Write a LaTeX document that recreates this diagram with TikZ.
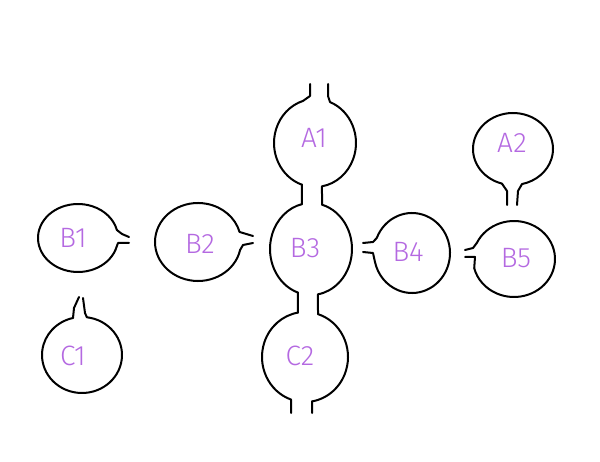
\documentclass[tikz,border=0pt]{standalone}
\usepackage{fontspec}
\setmainfont{Fira Sans Light}
\usetikzlibrary{calc}
\definecolor{labelpurple}{RGB}{180,105,225}
\tikzset{
  blob/.style={draw=black, line width=2pt, line cap=round, line join=round},
  lbl/.style={text=labelpurple, font=\fontsize{28}{28}\selectfont, inner sep=0pt},
}
% center, rx, ry, start angle, end angle, start name, end name
\newcommand\blobarc[7]{\draw[blob] ($(#1)+(#4:#2 and #3)$) coordinate (#6)
  arc[start angle=#4, end angle=#5, x radius=#2, y radius=#3] coordinate (#7);}
\begin{document}
\begin{tikzpicture}[x=1pt,y=-1pt]
\useasboundingbox (0,0) rectangle (600,462);
% centres
\coordinate (A1c) at (315,143);
\coordinate (B3c) at (311,249);
\coordinate (C2c) at (305,357);
\coordinate (B1c) at (78,238);
\coordinate (B2c) at (198,242);
\coordinate (B4c) at (412,253);
\coordinate (B5c) at (514,259);
\coordinate (A2c) at (513,149);
\coordinate (C1c) at (82,355);
% outlines
\blobarc{A1c}{41}{44}{291.5}{440.2}{A1tr}{A1br}
\blobarc{A1c}{41}{44}{108.5}{253}{A1bl}{A1tl}
\blobarc{B3c}{41}{46}{285.6}{440.2}{B3tr}{B3br}
\blobarc{B3c}{41}{46}{108.5}{257.3}{B3bl}{B3tl}
\blobarc{C2c}{43}{45}{287.6}{440.6}{C2tr}{C2br}
\blobarc{C2c}{43}{45}{109}{260.6}{C2bl}{C2tl}
\blobarc{B1c}{40}{34}{20.7}{346.4}{B1lo}{B1up}
\blobarc{B2c}{43}{39}{11.8}{345.1}{B2lo}{B2up}
\blobarc{B4c}{38}{40}{202}{527}{B4up}{B4lo}
\blobarc{B5c}{41}{38}{205}{526}{B5up}{B5lo}
\blobarc{A2c}{40}{36}{106}{437}{A2bl}{A2br}
\blobarc{C1c}{40}{38}{277}{617}{C1tr}{C1tl}
% free ends of stubs
\coordinate (A1e1) at (310,84);
\coordinate (A1e2) at (328,84);
\coordinate (C2e1) at (291,413);
\coordinate (C2e2) at (312,413);
\coordinate (B1e1) at (129,237);
\coordinate (B1e2) at (129,243);
\coordinate (B2e1) at (253,236);
\coordinate (B2e2) at (253,243);
\coordinate (B4e1) at (363,243);
\coordinate (B4e2) at (363,252);
\coordinate (B5e1) at (465,250);
\coordinate (B5e2) at (465,257);
\coordinate (A2e1) at (507,205);
\coordinate (A2e2) at (517,205);
\coordinate (C1e1) at (79,297);
\coordinate (C1e2) at (83,298);
% necks and stubs
\draw[blob] (A1tl) -- (310,96) -- (A1e1);
\draw[blob] (A1tr) -- (328,96) -- (A1e2);
\draw[blob] (A1bl) -- (B3tl);
\draw[blob] (A1br) -- (B3tr);
\draw[blob] (B3bl) -- (C2tl);
\draw[blob] (B3br) -- (C2tr);
\draw[blob] (C2bl) -- (C2e1);
\draw[blob] (C2br) -- (C2e2);
\draw[blob] (B1up) -- (122,234) -- (B1e1);
\draw[blob] (B1e2) -- (118,243) -- (B1lo);
\draw[blob] (B2up) -- (B2e1);
\draw[blob] (B2e2) -- (243,245) -- (B2lo);
\draw[blob] (B4up) -- (373,242) -- (B4e1);
\draw[blob] (B4lo) -- (373,253) -- (B4e2);
\draw[blob] (B5up) -- (473,248) -- (B5e1);
\draw[blob] (B5lo) -- (475,257) -- (B5e2);
\draw[blob] (A2bl) -- (507,191) -- (A2e1);
\draw[blob] (A2br) -- (518,191) -- (A2e2);
\draw[blob] (C1tl) -- (74,308) -- (C1e1);
\draw[blob] (C1tr) -- (85,313) -- (C1e2);
% labels
\node[lbl] (A1) at (314,138) {A1};
\node[lbl] (A2) at (512,143) {A2};
\node[lbl] (B1) at (73,238) {B1};
\node[lbl] (B2) at (200,244) {B2};
\node[lbl] (B3) at (305,248) {B3};
\node[lbl] (B4) at (408,252) {B4};
\node[lbl] (B5) at (516,258) {B5};
\node[lbl] (C1) at (73,356) {C1};
\node[lbl] (C2) at (300,356) {C2};
\end{tikzpicture}
\end{document}
